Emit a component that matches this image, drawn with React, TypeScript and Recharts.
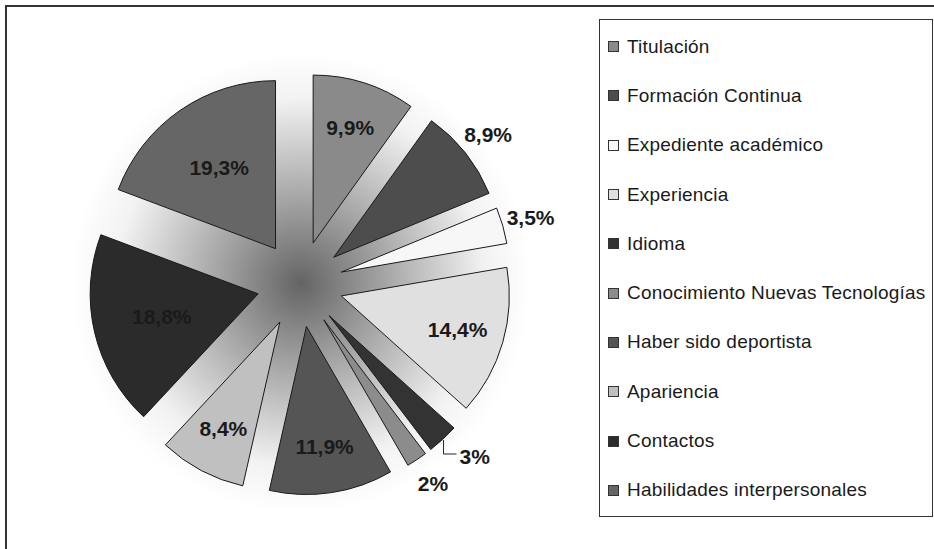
import React from 'react';
import { PieChart, Pie, Cell, Legend, Sector } from 'recharts';

const categories = [
  'Titulación',
  'Formación Continua',
  'Expediente académico',
  'Experiencia',
  'Idioma',
  'Conocimiento Nuevas Tecnologías',
  'Haber sido deportista',
  'Apariencia',
  'Contactos',
  'Habilidades interpersonales',
];
const percentages = [9.9, 8.9, 3.5, 14.4, 3, 2, 11.9, 8.4, 18.8, 19.3];
const percentLabels = ['9,9%', '8,9%', '3,5%', '14,4%', '3%', '2%', '11,9%', '8,4%', '18,8%', '19,3%'];
const sliceColors = [
  '#8a8a8a',
  '#4d4d4d',
  '#f7f7f7',
  '#e0e0e0',
  '#333333',
  '#8c8c8c',
  '#555555',
  '#c0c0c0',
  '#2b2b2b',
  '#666666',
];
// slices whose labels sit outside the pie
const outsideLabels = ['Formación Continua', 'Expediente académico', 'Idioma', 'Conocimiento Nuevas Tecnologías'];

const data = categories.map((name, i) => ({ name, value: percentages[i], label: percentLabels[i] }));
const backdrop = [{ name: 'fondo', value: 1 }];

const FONT = '"Liberation Sans", Arial, sans-serif';
const RAD = Math.PI / 180;
const EXPLODE = 43;
const CX = 295;
const CY = 279;
const R = 168;

function ExplodedSector(props: any) {
  const { cx, cy, midAngle } = props;
  const dx = EXPLODE * Math.cos(-midAngle * RAD);
  const dy = EXPLODE * Math.sin(-midAngle * RAD);
  return <Sector {...props} cx={cx + dx} cy={cy + dy} />;
}

function renderLabel(props: any) {
  const { cx, cy, midAngle, index } = props;
  const entry = data[index];
  const cos = Math.cos(-midAngle * RAD);
  const sin = Math.sin(-midAngle * RAD);
  const textStyle = { fontFamily: FONT, fontSize: 21, fontWeight: 700, fill: '#1a1a1a' };

  if (entry.name === 'Idioma') {
    const x0 = cx + (EXPLODE + R + 1) * cos;
    const y0 = cy + (EXPLODE + R + 1) * sin;
    const y1 = y0 + 14;
    const x2 = x0 + 13;
    return (
      <g>
        <polyline points={`${x0},${y0} ${x0},${y1} ${x2},${y1}`} fill="none" stroke="#222" strokeWidth={1} />
        <text x={x2 + 3} y={y1 + 2} textAnchor="start" dominantBaseline="central" style={textStyle}>
          {entry.label}
        </text>
      </g>
    );
  }

  let r = entry.value > 15 ? 142 : 164;
  if (outsideLabels.includes(entry.name)) r = 240;
  return (
    <text x={cx + r * cos} y={cy + r * sin} textAnchor="middle" dominantBaseline="central" style={textStyle}>
      {entry.label}
    </text>
  );
}

function renderLegend(props: any) {
  const payload = props.payload || [];
  return (
    <div
      style={{
        width: 334,
        height: 498,
        border: '1px solid #333',
        boxSizing: 'border-box',
        background: '#fff',
        paddingTop: 2,
        fontFamily: FONT,
      }}
    >
      {categories.map((name, i) => {
        const item = payload.find((p: any) => p.value === name);
        return (
          <div key={name} style={{ height: 49.3, display: 'flex', alignItems: 'center' }}>
            <span
              style={{
                display: 'inline-block',
                width: 11,
                height: 11,
                marginLeft: 8,
                marginRight: 8,
                background: item ? item.color : sliceColors[i],
                border: '1px solid #333',
                boxSizing: 'border-box',
              }}
            />
            <span style={{ fontSize: 19, letterSpacing: 0.2, color: '#1a1a1a', whiteSpace: 'nowrap' }}>{name}</span>
          </div>
        );
      })}
    </div>
  );
}

export default function App() {
  return (
    <div
      style={{
        position: 'absolute',
        left: 0,
        top: 0,
        width: 934,
        height: 549,
        overflow: 'hidden',
        background: '#fff',
      }}
    >
      <div
        style={{
          position: 'absolute',
          left: 5,
          top: 5,
          width: 960,
          height: 580,
          border: '2px solid #333',
        }}
      />
      <div style={{ position: 'absolute', left: 0, top: 0 }}>
        <PieChart width={934} height={549}>
          <defs>
            <radialGradient id="fondo" cx="50%" cy="50%" r="50%">
              <stop offset="0%" stopColor="#646464" />
              <stop offset="45%" stopColor="#b4b4b4" />
              <stop offset="80%" stopColor="#f2f2f2" />
              <stop offset="100%" stopColor="#ffffff" />
            </radialGradient>
          </defs>
          <Pie
            data={backdrop}
            dataKey="value"
            cx={296}
            cy={278}
            outerRadius={230}
            fill="url(#fondo)"
            stroke="none"
            legendType="none"
            isAnimationActive={false}
          />
          <Pie
            data={data}
            dataKey="value"
            nameKey="name"
            cx={CX}
            cy={CY}
            outerRadius={R}
            startAngle={90}
            endAngle={-270}
            stroke="#1a1a1a"
            strokeWidth={1}
            shape={ExplodedSector}
            activeShape={ExplodedSector}
            label={renderLabel}
            labelLine={false}
            isAnimationActive={false}
          >
            {data.map((d, i) => (
              <Cell key={d.name} fill={sliceColors[i]} />
            ))}
          </Pie>
          <Legend
            layout="vertical"
            content={renderLegend}
            wrapperStyle={{ position: 'absolute', left: 599, top: 19, width: 334, height: 498 }}
          />
        </PieChart>
      </div>
    </div>
  );
}
